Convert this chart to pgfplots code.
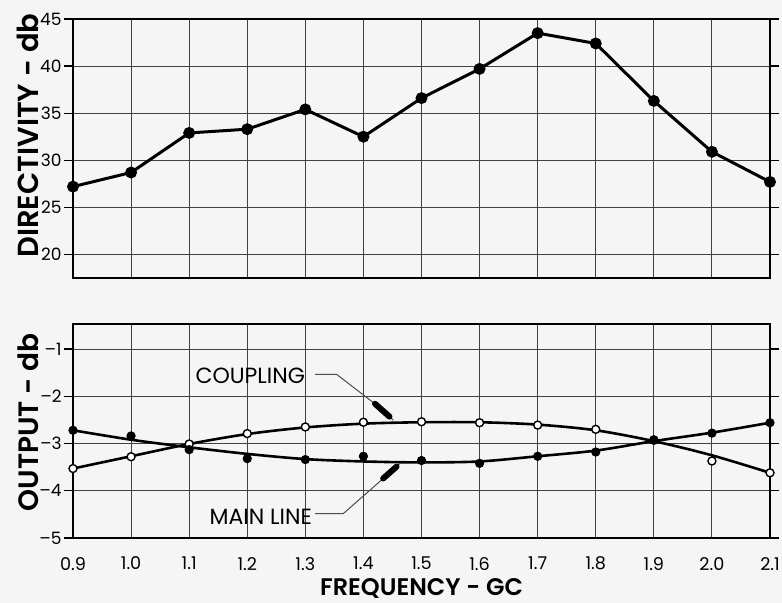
\documentclass[border=0pt]{standalone}
\usepackage{fontspec}
\setmainfont{Poppins}
\newfontfamily\labelfont{Poppins}[UprightFont=* SemiBold]
\usepackage{pgfplots}
\pgfplotsset{compat=1.18}
\usetikzlibrary{arrows.meta}

\begin{document}
\begin{tikzpicture}
\useasboundingbox[fill=black!4] (0,0) rectangle (391pt,301.5pt);
\pgfplotsset{
  myaxis/.style={
    scale only axis, width=348.5pt, anchor=south west,
    xmin=0.9, xmax=2.1,
    xtick={0.9,1.0,1.1,1.2,1.3,1.4,1.5,1.6,1.7,1.8,1.9,2.0,2.1},
    grid=major, grid style={black!75, line width=0.45pt},
    axis line style={line width=1.1pt},
    tick align=outside, major tick length=4.5pt,
    tick style={black, line width=0.6pt},
    yticklabel style={font=\fontsize{8.5}{8.5}\selectfont, inner sep=1pt},
    xticklabel style={font=\fontsize{8.8}{8.8}\selectfont},
    /pgf/number format/assume math mode=true,
    clip=false,
  }
}
% ---------- top: directivity ----------
\begin{axis}[myaxis,
  at={(36.5pt,162.5pt)}, height=129.5pt,
  ymin=17.5, ymax=45, ytick={20,25,30,35,40,45},
  xticklabels={},
  xtick style={draw=none},
  ylabel={DIRECTIVITY - db},
  ylabel style={font=\fontsize{14.5}{14.5}\labelfont,
    at={(axis description cs:-0.0646,0.55)}, anchor=center},
]
\addplot[black, line width=1.5pt, mark=*, mark size=2.2pt] coordinates {
 (0.9,27.2) (1.0,28.7) (1.1,32.9) (1.2,33.3) (1.3,35.4) (1.4,32.5)
 (1.5,36.6) (1.6,39.7) (1.7,43.5) (1.8,42.4) (1.9,36.3) (2.0,30.9) (2.1,27.7)
};
\end{axis}
% ---------- bottom: output ----------
\begin{axis}[myaxis,
  at={(36.5pt,32.5pt)}, height=107pt,
  ymin=-5, ymax=-0.47, ytick={-5,-4,-3,-2,-1},
  yticklabels={–5,–4,–3,–2,–1},
  xticklabels={0.9,1.0,1.1,1.2,1.3,1.4,1.5,1.6,1.7,1.8,1.9,2.0,2.1},
  xtick style={draw=none},
  xticklabel style={yshift=-1.5pt},
  ylabel={OUTPUT - db},
  ylabel style={font=\fontsize{14}{14}\labelfont,
    at={(axis description cs:-0.0646,0.54)}, anchor=center},
  xlabel={FREQUENCY - GC},
  xlabel style={font=\fontsize{12}{12}\labelfont,
    at={(axis description cs:0.5,-0.236)}, anchor=center},
]
% fitted curves
\addplot[black, line width=1.3pt, smooth] coordinates {
 (0.9,-3.53) (1.0,-3.27) (1.1,-3.01) (1.2,-2.80) (1.3,-2.66) (1.4,-2.58)
 (1.5,-2.55) (1.6,-2.55) (1.7,-2.60) (1.8,-2.72) (1.9,-2.95) (2.0,-3.25) (2.1,-3.62)
};
\addplot[black, line width=1.3pt, smooth] coordinates {
 (0.9,-2.72) (1.0,-2.92) (1.1,-3.08) (1.2,-3.22) (1.3,-3.33) (1.4,-3.38)
 (1.5,-3.40) (1.6,-3.38) (1.7,-3.27) (1.8,-3.15) (1.9,-2.95) (2.0,-2.77) (2.1,-2.56)
};
% measured points: coupling (open)
\addplot[only marks, mark=*, mark size=2pt, mark options={fill=white, draw=black, line width=0.7pt}] coordinates {
 (0.9,-3.53) (1.0,-3.28) (1.1,-3.01) (1.2,-2.79) (1.3,-2.65) (1.4,-2.55)
 (1.5,-2.54) (1.6,-2.56) (1.7,-2.61) (1.8,-2.70) (1.9,-2.93) (2.0,-3.37) (2.1,-3.62)
};
% measured points: main line (filled)
\addplot[only marks, mark=*, mark size=2.1pt, black] coordinates {
 (0.9,-2.72) (1.0,-2.84) (1.1,-3.13) (1.2,-3.32) (1.3,-3.34) (1.4,-3.27)
 (1.5,-3.36) (1.6,-3.42) (1.7,-3.27) (1.8,-3.18) (1.9,-2.92) (2.0,-2.78) (2.1,-2.56)
};
% annotations
\node[anchor=east, font=\fontsize{11}{11}\selectfont, inner sep=0pt] at (axis cs:1.300,-1.574) {COUPLING};
\node[anchor=east, font=\fontsize{11}{11}\selectfont, inner sep=0pt] at (axis cs:1.312,-4.555) {MAIN LINE};
\draw[black!70, line width=0.5pt] (axis cs:1.3167,-1.538) -- (axis cs:1.354,-1.538) -- (axis cs:1.4229,-2.189) -- (axis cs:1.4515,-2.506);
\draw[black, line width=3pt, line cap=round] (axis cs:1.4200,-2.160) -- (axis cs:1.4449,-2.431);
\draw[black!70, line width=0.5pt] (axis cs:1.3167,-4.483) -- (axis cs:1.3654,-4.483) -- (axis cs:1.4372,-3.708) -- (axis cs:1.463,-3.424);
\draw[black, line width=3pt, line cap=round] (axis cs:1.4340,-3.740) -- (axis cs:1.4570,-3.490);
\end{axis}
\end{tikzpicture}
\end{document}
